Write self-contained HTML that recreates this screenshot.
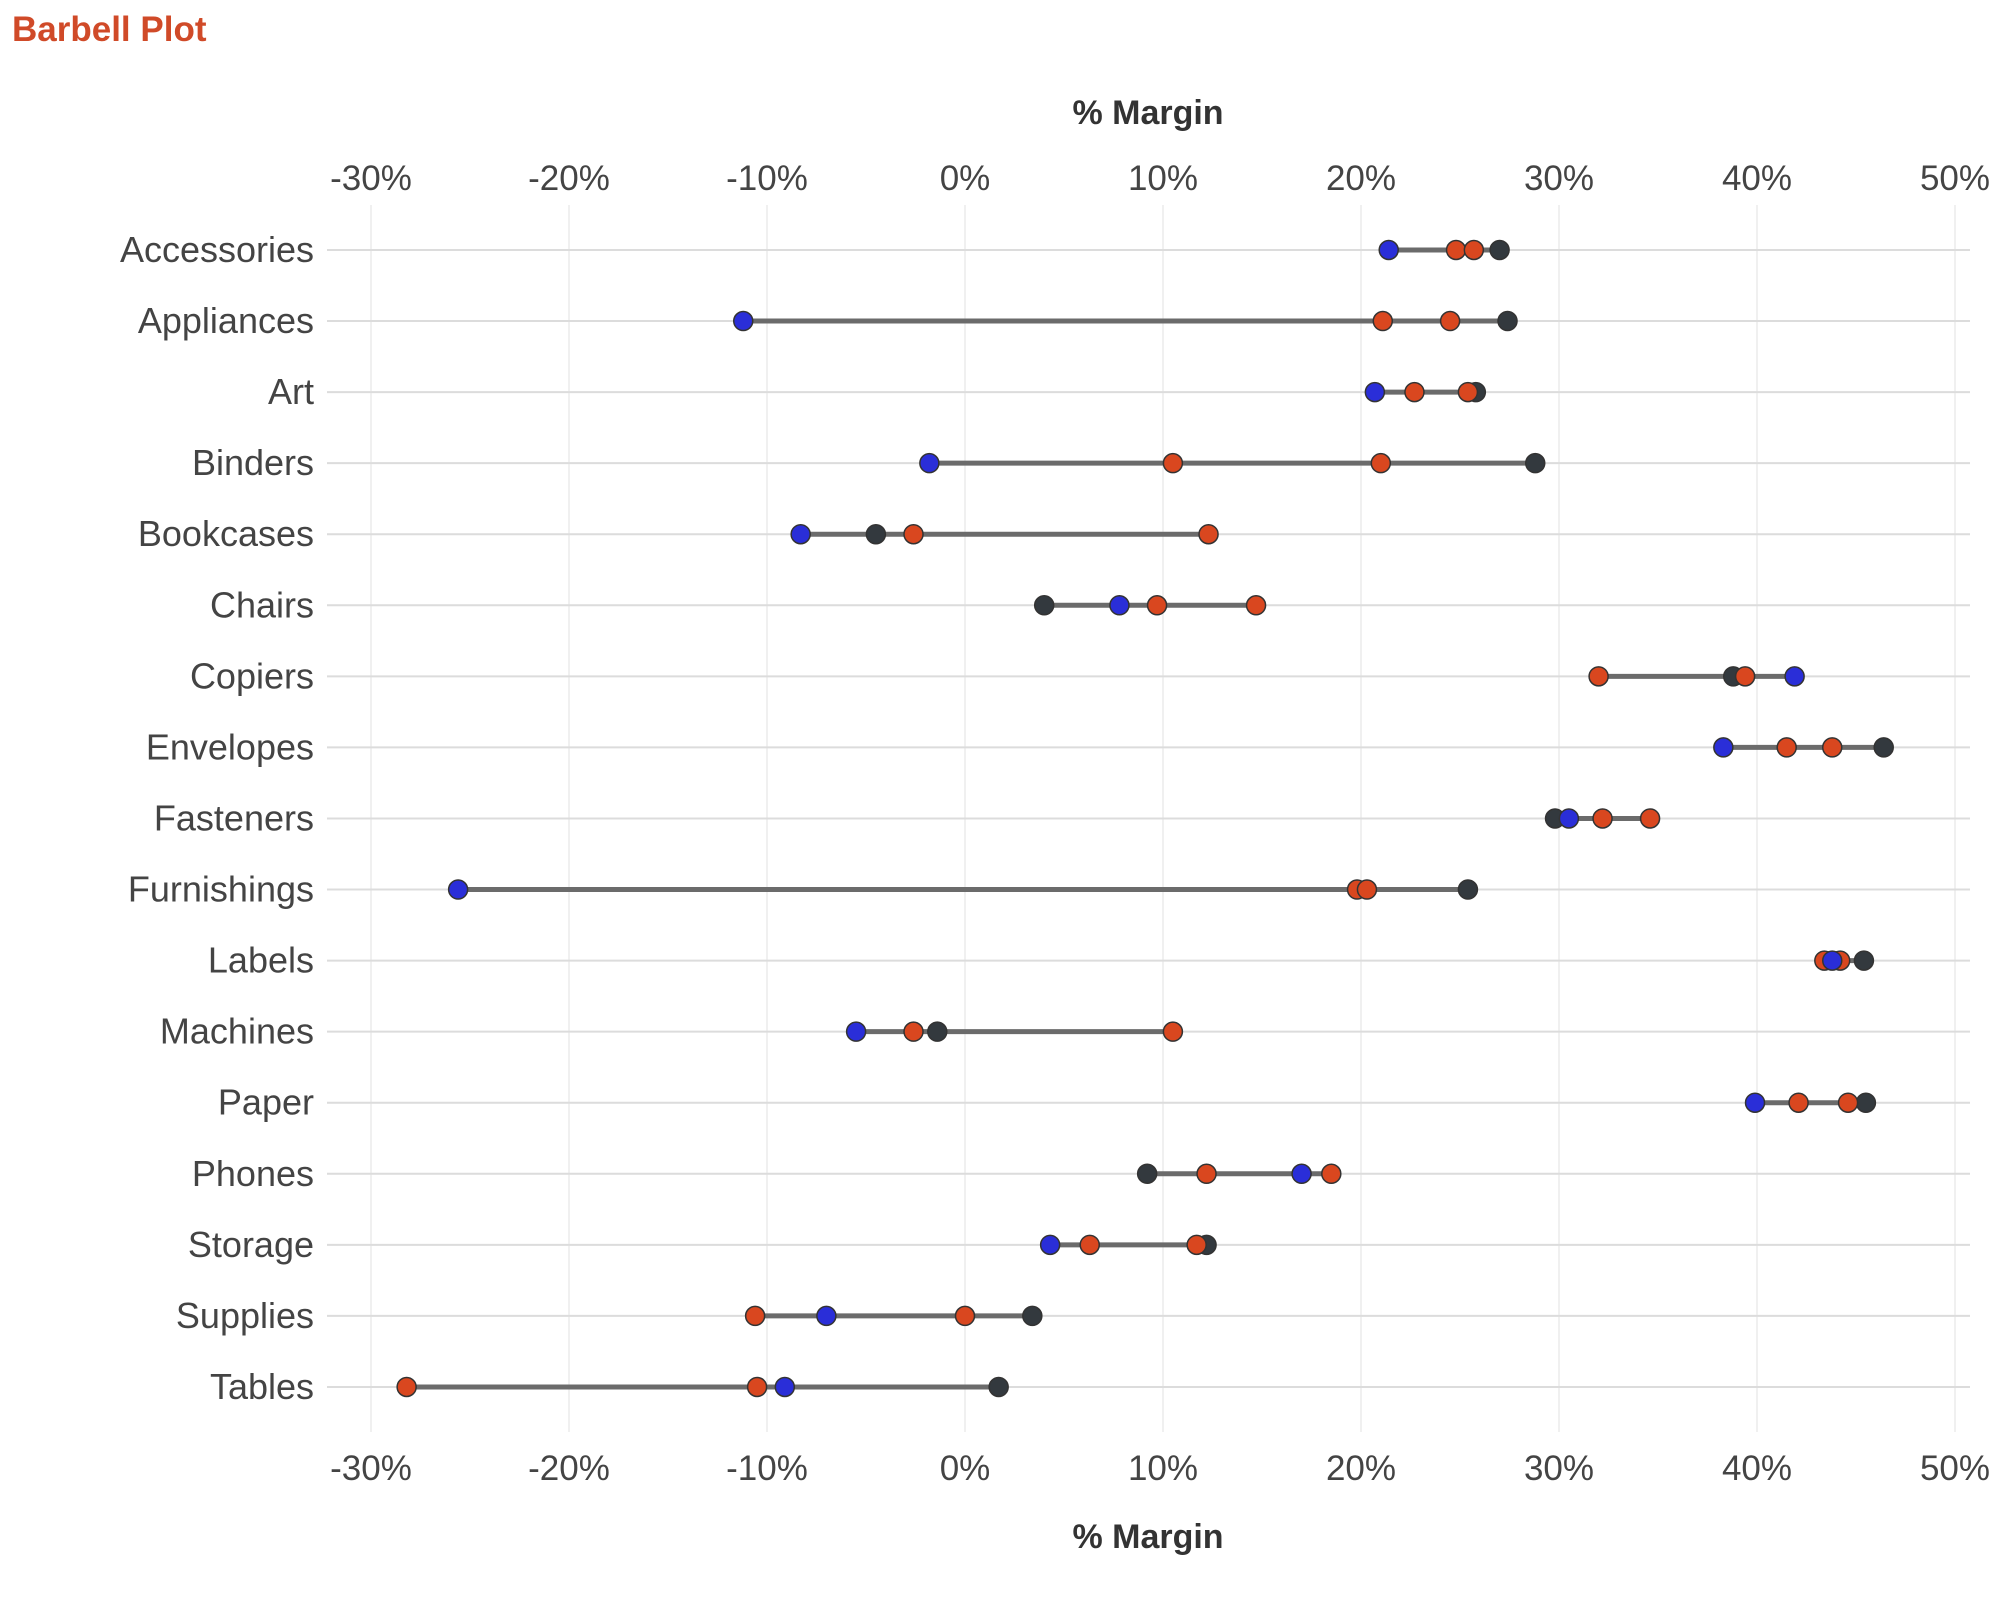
<!DOCTYPE html>
<html><head><meta charset="utf-8"><style>
html,body{margin:0;padding:0;background:#fff;}
svg{display:block;font-family:"Liberation Sans",sans-serif;}
</style></head><body>
<svg id="chart" width="1999" height="1601" viewBox="0 0 1999 1601">
<text x="12" y="41" font-size="35" font-weight="bold" fill="#d04a28">Barbell Plot</text>
<g id="grid"></g><g id="rows"></g><g id="marks"></g><g id="axes"></g>
</svg>
<script>
const categories=["Accessories","Appliances","Art","Binders","Bookcases","Chairs","Copiers","Envelopes","Fasteners","Furnishings","Labels","Machines","Paper","Phones","Storage","Supplies","Tables"];
const darkValues=[27.0,27.4,25.8,28.8,-4.5,4.0,38.8,46.4,29.8,25.4,45.4,-1.4,45.5,9.2,12.2,3.4,1.7];
const redValuesA=[24.8,21.1,22.7,10.5,-2.6,9.7,32.0,41.5,32.2,19.8,43.4,-2.6,42.1,12.2,6.3,-10.6,-28.2];
const redValuesB=[25.7,24.5,25.4,21.0,12.3,14.7,39.4,43.8,34.6,20.3,44.2,10.5,44.6,18.5,11.7,0.0,-10.5];
const blueValues=[21.4,-11.2,20.7,-1.8,-8.3,7.8,41.9,38.3,30.5,-25.6,43.8,-5.5,39.9,17.0,4.3,-7.0,-9.1];
const tickValues=[-30,-20,-10,0,10,20,30,40,50];
const tickLabels=["-30%","-20%","-10%","0%","10%","20%","30%","40%","50%"];

const NS="http://www.w3.org/2000/svg";
const x=v=>371+(v+30)*19.8;
const y=i=>250+i*71.06;
function mk(tag,attrs,parent){const e=document.createElementNS(NS,tag);for(const k in attrs)e.setAttribute(k,attrs[k]);parent.appendChild(e);return e;}
const grid=document.getElementById('grid'),rows=document.getElementById('rows'),marks=document.getElementById('marks'),axes=document.getElementById('axes');

tickValues.forEach((t,i)=>{
  const gl=mk('line',{x1:x(t),x2:x(t),y1:205,y2:1432,stroke:'#ececec','stroke-width':1.5},grid);
  
  
  const tt=mk('text',{x:x(t),y:190,'font-size':35,fill:'#444','text-anchor':'middle'},axes);
  tt.textContent=tickLabels[i];
  
  
  const tb=mk('text',{x:x(t),y:1480,'font-size':35,fill:'#444','text-anchor':'middle'},axes);
  tb.textContent=tickLabels[i];
  
  
});
const t1=mk('text',{x:1148,y:124,'font-size':34,'font-weight':'bold',fill:'#333','text-anchor':'middle'},axes);
t1.textContent='% Margin';


const t2=mk('text',{x:1148,y:1548,'font-size':34,'font-weight':'bold',fill:'#333','text-anchor':'middle'},axes);
t2.textContent='% Margin';



categories.forEach((c,i)=>{
  const yy=y(i);
  const rl=mk('line',{x1:327,x2:1970,y1:yy,y2:yy,stroke:'#dcdcdc','stroke-width':2},rows);
  
  
  const lb=mk('text',{x:314,y:yy+12,'font-size':36,fill:'#444','text-anchor':'end'},axes);
  lb.textContent=c;
  
  
  const vals=[darkValues[i],redValuesA[i],redValuesB[i],blueValues[i]];
  const mn=Math.min(...vals),mx=Math.max(...vals);
  const bar=mk('line',{x1:x(mn),x2:x(mx),y1:yy,y2:yy,stroke:'#6b6b6b','stroke-width':5},marks);
  
  
  const pts=[[darkValues[i],'#33393e','dark-point'],[redValuesA[i],'#d9471f','red-point'],[redValuesB[i],'#d9471f','red-point'],[blueValues[i],'#2a2ed8','blue-point']];
  pts.forEach(p=>{
    const c2=mk('circle',{cx:x(p[0]),cy:yy,r:9.5,fill:p[1],stroke:'#333','stroke-width':1.5},marks);
    
    
  });
});
</script>
</body></html>
